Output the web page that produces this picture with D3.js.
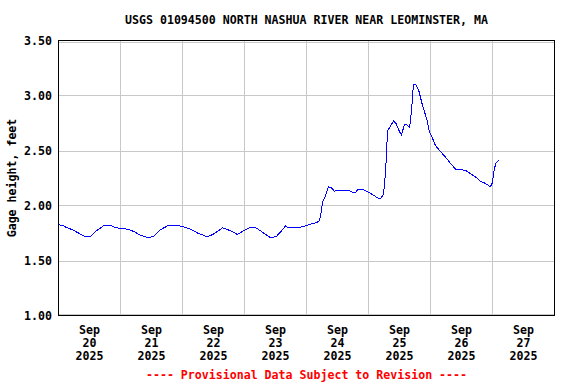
<!DOCTYPE html>
<html>
<head>
<meta charset="utf-8">
<script src="https://cdn.jsdelivr.net/npm/d3@7"></script>
<style>
  html, body { margin: 0; padding: 0; background: #fff; }
  svg text { font-family: "DejaVu Sans Mono", monospace; font-weight: bold; }
</style>
</head>
<body>
<div id="chart"></div>
<script>
const title = "USGS 01094500 NORTH NASHUA RIVER NEAR LEOMINSTER, MA";
const yLabel = "Gage height, feet";
const footer = "---- Provisional Data Subject to Revision ----";

// hours since 2025-09-20 00:00
const hoursFromStart = [
  0, 1.5, 3.1, 5.4, 7.7, 10.5, 12.4, 14.7, 17.4, 20.1, 22, 24, 27, 29.4, 31.7, 34.8,
  36.8, 39.5, 42.2, 45.3, 48, 51.1, 53.8, 57.7, 60, 63.5, 66.6, 69.3, 71.6, 74.3, 76.6,
  79.4, 82.1, 84.4, 86.7, 87.9, 88.6, 92.9, 94.8, 97.5, 99.9, 101, 101.4, 102.2, 103.4,
  104.5, 105.7, 106.8, 108.4, 112.3, 113.8, 115, 116.1, 117.7, 119.2, 121.5, 123.5,
  124.6, 125.8, 126.6, 127, 127.4, 128.5, 129.7, 130.8, 132, 132.8, 133.9, 135.1, 135.9,
  136.6, 137.4, 138.2, 139.4, 140.9, 142.5, 143.6, 144.8, 145.9, 147.9, 149.8, 151.7,
  153.7, 157.5, 159.5, 161.4, 163.4, 165.3, 167.2, 168, 168.4, 169.2, 169.9, 170.7
];
const gageHeight = [
  1.825, 1.82, 1.80, 1.78, 1.75, 1.715, 1.72, 1.77, 1.815, 1.82, 1.80, 1.79, 1.785, 1.76, 1.73, 1.706,
  1.72, 1.78, 1.815, 1.82, 1.81, 1.785, 1.75, 1.715, 1.74, 1.797, 1.77, 1.736, 1.77, 1.80, 1.795,
  1.75, 1.706, 1.72, 1.78, 1.815, 1.80, 1.797, 1.81, 1.83, 1.845, 1.86, 1.90, 2.03, 2.09,
  2.17, 2.16, 2.13, 2.14, 2.14, 2.118, 2.12, 2.15, 2.15, 2.13, 2.10, 2.07,
  2.06, 2.10, 2.30, 2.50, 2.68, 2.72, 2.77, 2.74, 2.67, 2.64, 2.74, 2.73, 2.71,
  2.85, 3.10, 3.10, 3.05, 2.91, 2.79, 2.67, 2.61, 2.545, 2.49, 2.44, 2.385,
  2.33, 2.32, 2.29, 2.26, 2.22, 2.20, 2.17, 2.21, 2.29, 2.38, 2.40, 2.415
];

const yTicks = [1.0, 1.5, 2.0, 2.5, 3.0, 3.5];
const dayLabels = ["20", "21", "22", "23", "24", "25", "26", "27"];
const monthLabel = "Sep";
const yearLabel = "2025";

const width = 576, height = 384;
const margin = { left: 58, right: 22, top: 40, bottom: 69 };

const start = new Date(2025, 8, 20);
const end = new Date(2025, 8, 28);
const data = hoursFromStart.map((h, i) => ({ t: d3.timeMinute.offset(start, Math.round(h * 60)), v: gageHeight[i] }));
const days = dayLabels.map((d, i) => d3.timeDay.offset(start, i));

const svg = d3.select("#chart").append("svg")
  .attr("width", width).attr("height", height);

const x = d3.scaleTime().domain([start, end]).range([margin.left + 0.5, width - margin.right + 0.5]);
const y = d3.scaleLinear().domain([1, 3.5]).range([height - margin.bottom + 0.5, margin.top + 0.5]);

// gridlines
svg.append("g").selectAll("line").data(yTicks).enter().append("line")
  .attr("x1", x.range()[0]).attr("x2", x.range()[1])
  .attr("y1", d => Math.round(y(d)) + 0.5 - (d === 1 ? 2 : 0) + (d === 3.5 ? 1 : 0))
  .attr("y2", d => Math.round(y(d)) + 0.5 - (d === 1 ? 2 : 0) + (d === 3.5 ? 1 : 0))
  .attr("stroke", "#c8c8c8").attr("shape-rendering", "crispEdges");

svg.append("g").selectAll("line").data(days.slice(1)).enter().append("line")
  .attr("x1", d => x(d)).attr("x2", d => x(d))
  .attr("y1", y.range()[1]).attr("y2", y.range()[0])
  .attr("stroke", "#c8c8c8").attr("shape-rendering", "crispEdges");

// data line
svg.append("path").datum(data)
  .attr("fill", "none").attr("stroke", "#0000ff").attr("stroke-width", 1)
  .attr("shape-rendering", "crispEdges")
  .attr("d", d3.line().x(d => x(d.t)).y(d => y(d.v)));

// frame
svg.append("rect")
  .attr("x", x.range()[0]).attr("y", y.range()[1])
  .attr("width", x.range()[1] - x.range()[0]).attr("height", y.range()[0] - y.range()[1])
  .attr("fill", "none").attr("stroke", "#000").attr("shape-rendering", "crispEdges");

// y tick labels
svg.append("g").selectAll("text").data(yTicks).enter().append("text")
  .attr("x", 52).attr("y", d => y(d)).attr("dy", "0.35em")
  .attr("text-anchor", "end").attr("font-size", "11.6px")
  .text(d => d.toFixed(2));

// x labels
const xl = svg.append("g").selectAll("g").data(days).enter().append("g")
  .attr("transform", d => `translate(${x(d3.timeHour.offset(d, 12))},0)`);
xl.append("text").attr("y", 330).attr("dy", "0.35em").attr("text-anchor", "middle")
  .attr("font-size", "11.6px").text(monthLabel);
xl.append("text").attr("y", 343).attr("dy", "0.35em").attr("text-anchor", "middle")
  .attr("font-size", "11.6px").text((d, i) => dayLabels[i]);
xl.append("text").attr("y", 356).attr("dy", "0.35em").attr("text-anchor", "middle")
  .attr("font-size", "11.6px").text(yearLabel);

// title
svg.append("text").attr("x", (x.range()[0] + x.range()[1]) / 2).attr("y", 20).attr("dy", "0.35em")
  .attr("text-anchor", "middle").attr("font-size", "11.6px").text(title);

// y label
svg.append("text").attr("transform", `translate(12,${(y.range()[0] + y.range()[1]) / 2}) rotate(-90)`)
  .attr("dy", "0.35em").attr("text-anchor", "middle").attr("font-size", "11.6px").text(yLabel);

// footer
svg.append("text").attr("x", (x.range()[0] + x.range()[1]) / 2).attr("y", 375).attr("dy", "0.35em")
  .attr("text-anchor", "middle").attr("font-size", "11.6px").attr("fill", "#ff0000").text(footer);
</script>
</body>
</html>
